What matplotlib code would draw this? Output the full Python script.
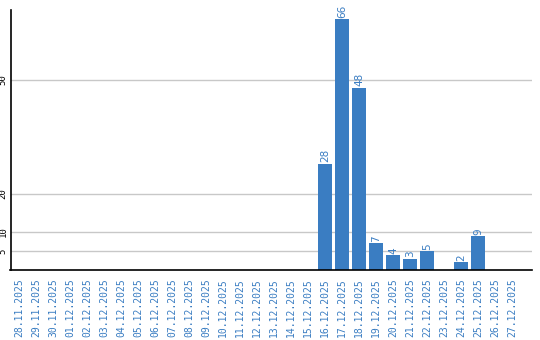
import matplotlib
matplotlib.use('Agg')
import matplotlib.pyplot as plt

dates = ['28.11.2025', '29.11.2025', '30.11.2025', '01.12.2025', '02.12.2025',
         '03.12.2025', '04.12.2025', '05.12.2025', '06.12.2025', '07.12.2025',
         '08.12.2025', '09.12.2025', '10.12.2025', '11.12.2025', '12.12.2025',
         '13.12.2025', '14.12.2025', '15.12.2025', '16.12.2025', '17.12.2025',
         '18.12.2025', '19.12.2025', '20.12.2025', '21.12.2025', '22.12.2025',
         '23.12.2025', '24.12.2025', '25.12.2025', '26.12.2025', '27.12.2025']
counts = [0, 0, 0, 0, 0, 0, 0, 0, 0, 0,
          0, 0, 0, 0, 0, 0, 0, 0, 28, 66,
          48, 7, 4, 3, 5, 0, 2, 9, 0, 0]
yticks = [5, 10, 20, 50]

blue = '#3a7dc2'

fig = plt.figure(figsize=(5.4, 3.4), dpi=100)
ax = fig.add_axes([10.5 / 540, 70 / 340, 521 / 540, 260 / 340])

x = list(range(len(dates)))
ax.bar(x, counts, width=0.82, color=blue, zorder=2)
for xi, v in zip(x, counts):
    if v > 0:
        ax.text(xi, v + 0.3, str(v), rotation=90, ha='center', va='bottom',
                color=blue, fontsize=7.5, family='DejaVu Sans', clip_on=False)

ax.set_xlim(-0.5, 30.15)
ax.set_ylim(0, 260 / 3.8)
ax.set_yticks(yticks)
ax.set_yticklabels([str(t) for t in yticks], rotation=90, va='center',
                   fontsize=6.5, family='DejaVu Sans Mono')
ax.set_xticks(x)
ax.set_xticklabels(dates, rotation=90, color=blue, fontsize=7,
                   family='DejaVu Sans Mono')
ax.tick_params(axis='both', length=0, pad=2)
ax.tick_params(axis='x', pad=6)
ax.grid(axis='y', color='#c8c8c8', linewidth=1, zorder=0)
ax.set_axisbelow(True)
for side in ('top', 'right'):
    ax.spines[side].set_visible(False)
for side in ('left', 'bottom'):
    ax.spines[side].set_color('black')
    ax.spines[side].set_linewidth(1.2)

fig.savefig('out.png', dpi=100)
